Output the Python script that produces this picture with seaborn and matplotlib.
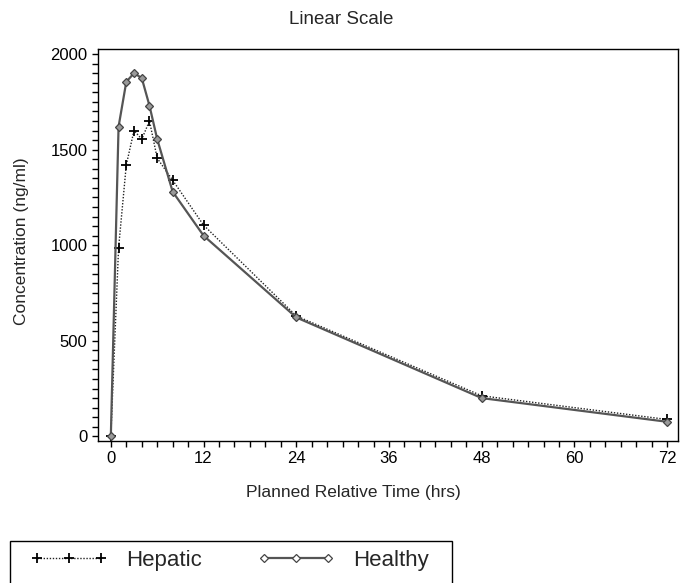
import matplotlib
matplotlib.use("Agg")
import matplotlib.pyplot as plt
import seaborn as sns
import pandas as pd
from matplotlib.ticker import MultipleLocator
from matplotlib.patches import Rectangle

time_hrs = [0, 1, 2, 3, 4, 5, 6, 8, 12, 24, 48, 72]
hepatic = [0, 985, 1420, 1600, 1555, 1650, 1455, 1340, 1105, 630, 212, 88]
healthy = [0, 1620, 1855, 1900, 1875, 1730, 1555, 1280, 1050, 622, 200, 76]
x_ticks = [0, 12, 24, 36, 48, 60, 72]
y_ticks = [0, 500, 1000, 1500, 2000]

sns.set_style("ticks")
plt.rcParams['font.family'] = ['Liberation Sans', 'DejaVu Sans']

df_hep = pd.DataFrame({"time": time_hrs, "conc": hepatic})
df_hea = pd.DataFrame({"time": time_hrs, "conc": healthy})

W, H = 680, 583
fig = plt.figure(figsize=(6.8, 5.83), dpi=100)
ax = fig.add_axes([97.7 / W, 1 - 440.7 / H, (678 - 97.7) / W, (440.7 - 49.3) / H])

sns.lineplot(data=df_hep, x="time", y="conc", ax=ax, color="#222222", linestyle=(0, (1.0, 1.2)),
             linewidth=1.0, marker="+", markersize=7, markeredgewidth=1.3,
             markeredgecolor="black", label="Hepatic")
sns.lineplot(data=df_hea, x="time", y="conc", ax=ax, color="#555555", linestyle="-",
             linewidth=1.6, marker="D", markersize=3.8, markerfacecolor="#999999",
             markeredgecolor="#444444", markeredgewidth=0.9, label="Healthy")

ax.set_xlim(-1.7, 73.4)
ax.set_ylim(-23, 2025)
ax.set_xticks(x_ticks)
ax.set_yticks(y_ticks)
ax.xaxis.set_minor_locator(MultipleLocator(2))
ax.yaxis.set_minor_locator(MultipleLocator(50))
ax.tick_params(which="both", direction="out", length=4, width=1, colors="black", labelsize=12)
for s in ax.spines.values():
    s.set_visible(True)
    s.set_color("black")
    s.set_linewidth(1)

ax.set_xlabel("Planned Relative Time (hrs)", fontsize=12.5)
ax.set_ylabel("Concentration (ng/ml)", fontsize=12.5)
ax.xaxis.set_label_coords(0.44, -0.1336)
ax.yaxis.set_label_coords(-0.131, 0.51)
ax.xaxis.label.set_va("center")
ax.yaxis.label.set_va("center")
fig.text(341 / W, 1 - 20 / H, "Linear Scale", ha="center", va="center", fontsize=13.5)

handles, labels = ax.get_legend_handles_labels()
ax.get_legend().remove()
leg = fig.legend(handles, labels, loc="upper left", bbox_to_anchor=(21.0 / W, 1 - 540.7 / H),
                 ncol=2, fontsize=16, frameon=False,
                 borderaxespad=0, borderpad=0.42, handlelength=3.5, handletextpad=0.8,
                 columnspacing=2.5, numpoints=3)
for lh in leg.legend_handles:
    if lh.get_label() == "Healthy" or lh.get_marker() == "D":
        lh.set_markerfacecolor("white")
fig.add_artist(Rectangle((10 / W, -0.05), (452 - 10) / W, 1 - 540.7 / H + 0.05,
                         transform=fig.transFigure, fill=False, edgecolor="black",
                         linewidth=1.0, clip_on=False))

fig.savefig("out.png", dpi=100)
